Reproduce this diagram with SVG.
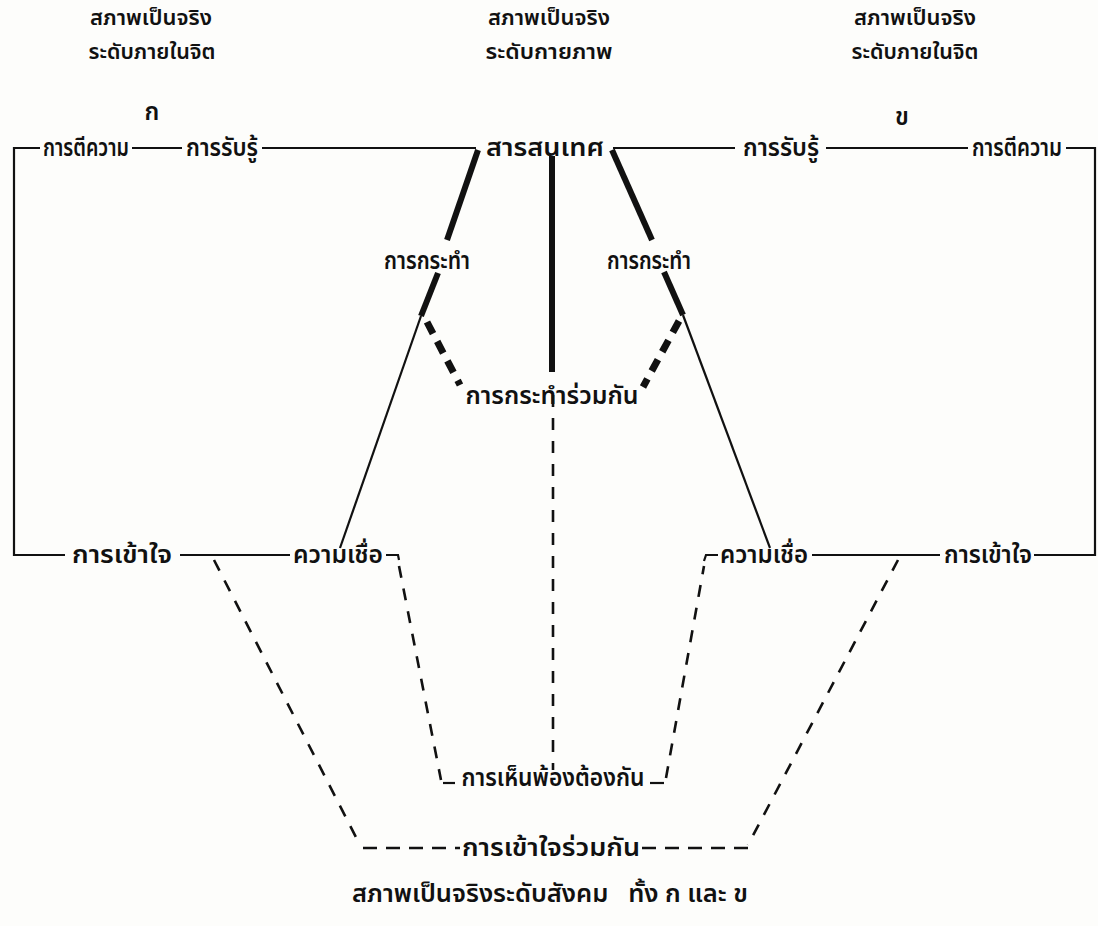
<svg xmlns="http://www.w3.org/2000/svg" width="1098" height="926" viewBox="0 0 1098 926">
<style>
text{font-family:"Noto Sans Thai","Noto Sans","DejaVu Sans",sans-serif;font-size:24px;font-weight:600;fill:#111;text-anchor:middle}
.h{font-size:21px}
.s{fill:none;stroke:#111;stroke-width:2.2}
.thick{fill:none;stroke:#111;stroke-width:6;stroke-linecap:butt}
.tdash{fill:none;stroke:#111;stroke-width:7;stroke-dasharray:13 9}
.d{fill:none;stroke:#111;stroke-width:2.6;stroke-dasharray:12 11}
</style>
<rect width="1098" height="926" fill="#fdfdfb"/>
<g id="headers">
<text class="h" x="151" y="25" textLength="122" lengthAdjust="spacingAndGlyphs">สภาพเป็นจริง</text>
<text class="h" x="152" y="59" textLength="127" lengthAdjust="spacingAndGlyphs">ระดับภายในจิต</text>
<text class="h" x="549" y="25" textLength="122" lengthAdjust="spacingAndGlyphs">สภาพเป็นจริง</text>
<text class="h" x="549" y="59" textLength="127" lengthAdjust="spacingAndGlyphs">ระดับกายภาพ</text>
<text class="h" x="915" y="25" textLength="122" lengthAdjust="spacingAndGlyphs">สภาพเป็นจริง</text>
<text class="h" x="915" y="59" textLength="127" lengthAdjust="spacingAndGlyphs">ระดับภายในจิต</text>
<text x="152" y="120">ก</text>
<text x="902" y="125">ข</text>
</g>
<g id="connectors">
<polyline class="s" points="40,148 14,148 14,555 65,555"/>
<line class="s" x1="132" y1="148" x2="182" y2="148"/>
<line class="s" x1="262" y1="148" x2="476" y2="148"/>
<line class="s" x1="613" y1="148" x2="735" y2="148"/>
<line class="s" x1="826" y1="148" x2="968" y2="148"/>
<polyline class="s" points="1066,148 1095,148 1095,555 1034,555"/>
<line class="s" x1="180" y1="555" x2="290" y2="555"/>
<polyline class="s" points="386,555 398,555 399,560"/>
<polyline class="s" points="704,561 706,555 718,555"/>
<line class="s" x1="812" y1="555" x2="940" y2="555"/>
<line class="thick" x1="478" y1="150" x2="447" y2="240"/>
<line class="thick" x1="438" y1="273" x2="421" y2="316"/>
<line class="s" x1="421" y1="316" x2="340" y2="548"/>
<line class="tdash" x1="427" y1="322" x2="460" y2="385"/>
<line class="thick" x1="612" y1="150" x2="652" y2="240"/>
<line class="thick" x1="664" y1="272" x2="683" y2="315"/>
<line class="s" x1="683" y1="315" x2="770" y2="548"/>
<line class="tdash" x1="679" y1="321" x2="643" y2="387"/>
<line class="thick" x1="552" y1="156" x2="552" y2="372"/>
<line class="d" x1="553" y1="395" x2="553" y2="770"/>
<polyline class="d" points="399,566 441,780"/>
<line class="s" x1="443" y1="783" x2="455" y2="783"/>
<line class="s" x1="650" y1="783" x2="664" y2="783"/>
<line class="d" x1="666" y1="778" x2="704" y2="566"/>
<line class="d" x1="214" y1="560" x2="360" y2="845"/>
<line class="d" x1="898" y1="560" x2="748" y2="845"/>
<line class="d" x1="363" y1="848" x2="460" y2="848" style="stroke-dasharray:14 9"/>
<line class="d" x1="642" y1="848" x2="748" y2="848" style="stroke-dasharray:14 9"/>
</g>
<g id="n-interp-a"><text x="86" y="156" textLength="86" lengthAdjust="spacingAndGlyphs">การตีความ</text></g>
<g id="n-percept-a"><text x="222" y="156" textLength="72" lengthAdjust="spacingAndGlyphs">การรับรู้</text></g>
<g id="n-info"><text x="545" y="156" textLength="118" lengthAdjust="spacingAndGlyphs">สารสนเทศ</text></g>
<g id="n-percept-b"><text x="781" y="156" textLength="76" lengthAdjust="spacingAndGlyphs">การรับรู้</text></g>
<g id="n-interp-b"><text x="1017" y="156" textLength="90" lengthAdjust="spacingAndGlyphs">การตีความ</text></g>
<g id="n-act-a"><text x="427" y="269" textLength="86" lengthAdjust="spacingAndGlyphs">การกระทำ</text></g>
<g id="n-act-b"><text x="649" y="269" textLength="84" lengthAdjust="spacingAndGlyphs">การกระทำ</text></g>
<g id="n-joint-act"><text x="552" y="404" textLength="173" lengthAdjust="spacingAndGlyphs">การกระทำร่วมกัน</text></g>
<g id="n-underst-a"><text x="122" y="563" textLength="100" lengthAdjust="spacingAndGlyphs">การเข้าใจ</text></g>
<g id="n-belief-a"><text x="338" y="563" textLength="90" lengthAdjust="spacingAndGlyphs">ความเชื่อ</text></g>
<g id="n-belief-b"><text x="764" y="563" textLength="88" lengthAdjust="spacingAndGlyphs">ความเชื่อ</text></g>
<g id="n-underst-b"><text x="988" y="563" textLength="88" lengthAdjust="spacingAndGlyphs">การเข้าใจ</text></g>
<g id="n-consensus"><text x="553" y="786" textLength="183" lengthAdjust="spacingAndGlyphs">การเห็นพ้องต้องกัน</text></g>
<g id="n-joint-underst"><text x="551" y="856" textLength="178" lengthAdjust="spacingAndGlyphs">การเข้าใจร่วมกัน</text></g>
<g id="caption"><text x="550" y="902" xml:space="preserve" textLength="396" lengthAdjust="spacingAndGlyphs">สภาพเป็นจริงระดับสังคม   ทั้ง ก และ ข</text></g>
</svg>
